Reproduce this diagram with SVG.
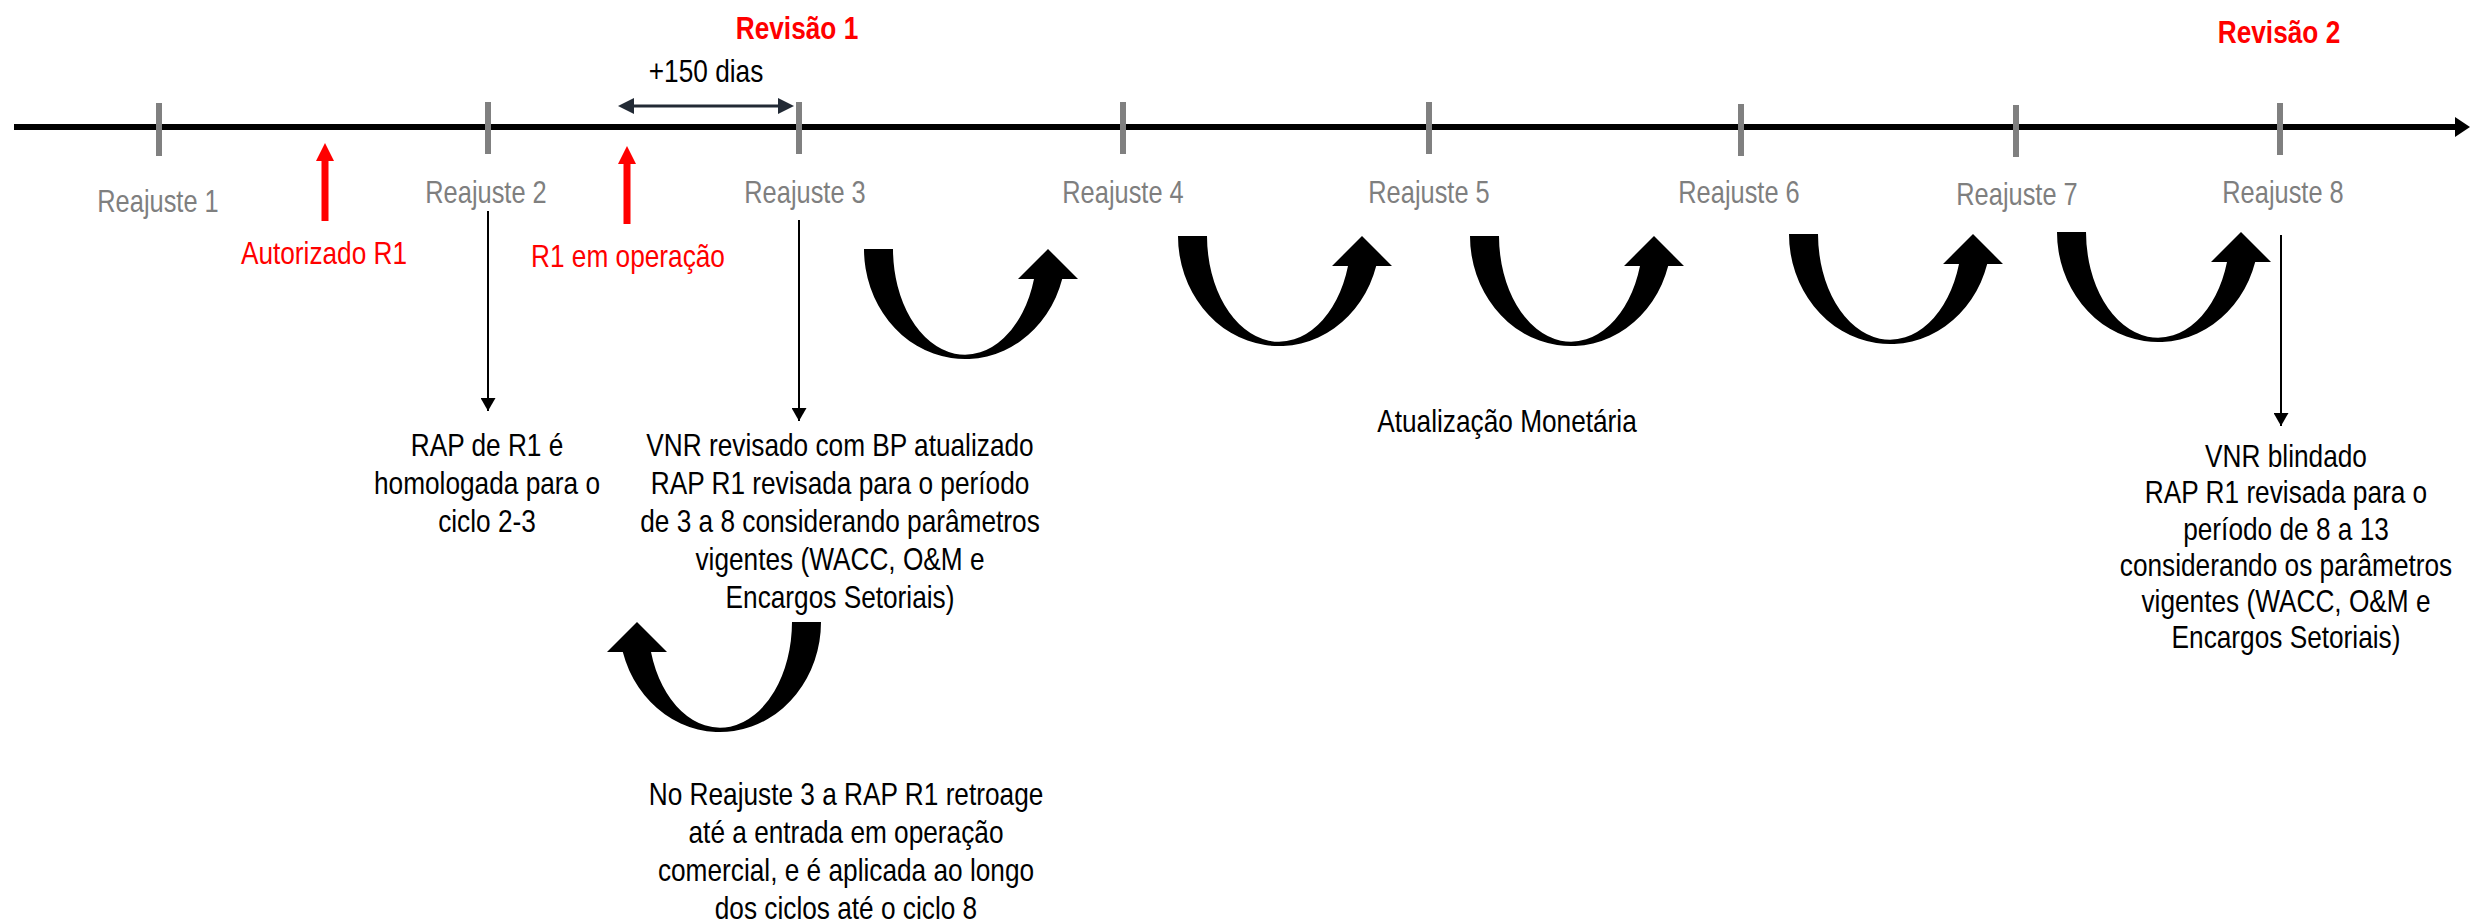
<svg xmlns="http://www.w3.org/2000/svg" width="2470" height="923" viewBox="0 0 2470 923">
<defs>
<style>
text { font-family: "Liberation Sans", Arial, sans-serif; }
.lbl { font-size: 31px; fill: #7f7f7f; text-anchor: middle; }
.red { font-size: 32px; fill: #ff0000; text-anchor: middle; }
.redb { font-size: 32px; fill: #ff0000; font-weight: bold; text-anchor: middle; }
.txt { font-size: 32px; fill: #000000; text-anchor: middle; }
.tick { stroke: #808080; stroke-width: 6; }
.conn { stroke: #000000; stroke-width: 2; fill: none; marker-end: url(#ah); }
.uarr { fill: #000000; }
</style>
<marker id="ah" markerUnits="userSpaceOnUse" markerWidth="13" markerHeight="15" refX="13" refY="7.5" orient="auto" viewBox="0 0 13 15">
<path d="M0,0 L13,7.5 L0,15 Z" fill="#000000"/>
</marker>
<path id="uarrow" d="M-101,0 A101,110 0 0 0 97.2,30 L113,30 L83,0 L53,30 L69,30 A72,106 0 0 1 -72,0 Z"/>
</defs>
<rect width="2470" height="923" fill="#ffffff"/>

<g id="timeline">
<line x1="14" y1="127" x2="2458" y2="127" stroke="#000000" stroke-width="6"/>
<polygon points="2455,117 2470,127 2455,137" fill="#000000"/>
</g>

<g id="reajuste1"><line class="tick" x1="159" y1="103" x2="159" y2="156"/><text class="lbl" transform="translate(158,212) scale(0.82,1)">Reajuste 1</text></g>
<g id="reajuste2"><line class="tick" x1="488" y1="102" x2="488" y2="154"/><text class="lbl" transform="translate(486,203) scale(0.82,1)">Reajuste 2</text></g>
<g id="reajuste3"><line class="tick" x1="799" y1="102" x2="799" y2="154"/><text class="lbl" transform="translate(805,203) scale(0.82,1)">Reajuste 3</text></g>
<g id="reajuste4"><line class="tick" x1="1123" y1="102" x2="1123" y2="154"/><text class="lbl" transform="translate(1123,203) scale(0.82,1)">Reajuste 4</text></g>
<g id="reajuste5"><line class="tick" x1="1429" y1="102" x2="1429" y2="154"/><text class="lbl" transform="translate(1429,203) scale(0.82,1)">Reajuste 5</text></g>
<g id="reajuste6"><line class="tick" x1="1741" y1="104" x2="1741" y2="156"/><text class="lbl" transform="translate(1739,203) scale(0.82,1)">Reajuste 6</text></g>
<g id="reajuste7"><line class="tick" x1="2016" y1="105" x2="2016" y2="157"/><text class="lbl" transform="translate(2017,205) scale(0.82,1)">Reajuste 7</text></g>
<g id="reajuste8"><line class="tick" x1="2280" y1="103" x2="2280" y2="155"/><text class="lbl" transform="translate(2283,203) scale(0.82,1)">Reajuste 8</text></g>

<g id="revisao1"><text class="redb" transform="translate(797,39) scale(0.82,1)">Revisão 1</text></g>
<g id="revisao2"><text class="redb" transform="translate(2279,43) scale(0.82,1)">Revisão 2</text></g>

<g id="dias150">
<line x1="630" y1="106" x2="782" y2="106" stroke="#222a35" stroke-width="3"/>
<polygon points="618,106 634,98 634,114" fill="#222a35"/>
<polygon points="794,106 778,98 778,114" fill="#222a35"/>
<text class="txt" transform="translate(706,82) scale(0.82,1)">+150 dias</text>
</g>

<g id="autorizado">
<rect x="321.5" y="159" width="7" height="62" fill="#ff0000"/>
<polygon points="325,143 316,161 334,161" fill="#ff0000"/>
<text class="red" transform="translate(324,264) scale(0.82,1)">Autorizado R1</text>
</g>
<g id="r1operacao">
<rect x="623.5" y="162" width="7" height="62" fill="#ff0000"/>
<polygon points="627,146 618,164 636,164" fill="#ff0000"/>
<text class="red" transform="translate(628,267) scale(0.82,1)">R1 em operação</text>
</g>

<g id="connectors">
<line class="conn" x1="488" y1="211" x2="488" y2="411"/>
<line class="conn" x1="799" y1="220" x2="799" y2="421"/>
<line class="conn" x1="2281" y1="235" x2="2281" y2="426"/>
</g>

<g id="texto-ciclo23">
<text class="txt" transform="translate(487,456) scale(0.82,1)"><tspan x="0" y="0">RAP de R1 é</tspan><tspan x="0" y="38">homologada para o</tspan><tspan x="0" y="76">ciclo 2-3</tspan></text>
</g>
<g id="texto-revisao1">
<text class="txt" transform="translate(840,456) scale(0.82,1)"><tspan x="0" y="0">VNR revisado com BP atualizado</tspan><tspan x="0" y="38">RAP R1 revisada para o período</tspan><tspan x="0" y="76">de 3 a 8 considerando parâmetros</tspan><tspan x="0" y="114">vigentes (WACC, O&amp;M e</tspan><tspan x="0" y="152">Encargos Setoriais)</tspan></text>
</g>
<g id="texto-retroage">
<text class="txt" transform="translate(846,805) scale(0.82,1)"><tspan x="0" y="0">No Reajuste 3 a RAP R1 retroage</tspan><tspan x="0" y="38">até a entrada em operação</tspan><tspan x="0" y="76">comercial, e é aplicada ao longo</tspan><tspan x="0" y="114">dos ciclos até o ciclo 8</tspan></text>
</g>
<g id="texto-atualizacao">
<text class="txt" transform="translate(1507,432) scale(0.82,1)">Atualização Monetária</text>
</g>
<g id="texto-revisao2">
<text class="txt" transform="translate(2286,467) scale(0.82,1)"><tspan x="0" y="0">VNR blindado</tspan><tspan x="0" y="36.3">RAP R1 revisada para o</tspan><tspan x="0" y="72.6">período de 8 a 13</tspan><tspan x="0" y="108.9">considerando os parâmetros</tspan><tspan x="0" y="145.2">vigentes (WACC, O&amp;M e</tspan><tspan x="0" y="181.5">Encargos Setoriais)</tspan></text>
</g>

<g id="uturn-arrows">
<use class="uarr" href="#uarrow" transform="translate(965,249)"/>
<use class="uarr" href="#uarrow" transform="translate(1279,236)"/>
<use class="uarr" href="#uarrow" transform="translate(1571,236)"/>
<use class="uarr" href="#uarrow" transform="translate(1890,234)"/>
<use class="uarr" href="#uarrow" transform="translate(2158,232)"/>
<use class="uarr" href="#uarrow" transform="translate(720,622) scale(-1,1)"/>
</g>
</svg>
